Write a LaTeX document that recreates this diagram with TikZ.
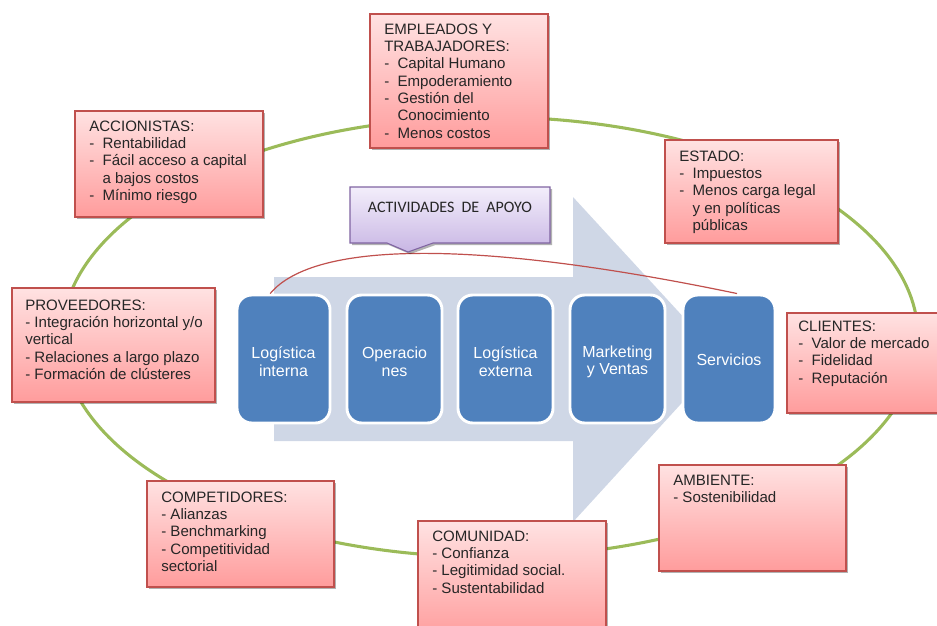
\documentclass[tikz,border=0pt]{standalone}
\usepackage{fontspec}
\setmainfont{Liberation Sans}
\newfontfamily\calloutfont{Carlito}
\usetikzlibrary{shadows,fit}

\definecolor{boxedge}{RGB}{192,80,77}
\definecolor{boxtop}{RGB}{255,226,226}
\definecolor{boxbot}{RGB}{255,156,156}
\definecolor{ringgreen}{RGB}{155,187,89}
\definecolor{chainblue}{RGB}{79,129,189}
\definecolor{arrowfill}{RGB}{207,215,230}
\definecolor{calloutedge}{RGB}{128,100,162}
\definecolor{callouttop}{RGB}{243,238,251}
\definecolor{calloutbot}{RGB}{200,182,228}
\definecolor{linkred}{RGB}{192,80,77}

% dash with hanging indent for the stakeholder lists
\newcommand{\itemdash}{\makebox[10pt][l]{-}}
\newcommand{\itemgap}{\hspace*{10pt}}
\newcommand{\stakelist}[1]{\begin{tabular}[t]{@{}l@{}}#1\end{tabular}}

\begin{document}
\begin{tikzpicture}[x=0.75pt,y=-0.75pt,
  stake/.style={draw=boxedge, line width=0.8pt, top color=boxtop, bottom color=boxbot,
    inner sep=0pt,
    drop shadow={shadow xshift=1.6pt, shadow yshift=-1.6pt, opacity=0.3, fill=black}},
  staketext/.style={anchor=base west, inner sep=0pt,
    font=\fontsize{11.3}{13}\selectfont, text=black!85},
  link/.style={draw=white, line width=2.2pt, fill=chainblue, rounded corners=11pt,
    inner sep=0pt},
  linktext/.style={inner sep=0pt, text=white, align=center,
    font=\fontsize{12}{13}\selectfont},
]
\useasboundingbox (0,0) rectangle (937,625);
\clip (0,0) rectangle (937,625);

% stakeholder ring
\draw[ringgreen, line width=2.3pt] (490,337) ellipse [x radius=321pt, y radius=165pt];

% value chain arrow
\fill[arrowfill] (274,277) -- (573,277) -- (573,197) -- (722,359) -- (573,522)
  -- (573,441) -- (274,441) -- cycle;

% primary activities
\node[link, fit={(237,295) (330,423)}] (l1) {};
\node[link, fit={(347,295) (442,423)}] (l2) {};
\node[link, fit={(458,295) (553,423)}] (l3) {};
\node[link, fit={(570,295) (665,423)}] (l4) {};
\node[link, fit={(683,295) (775,423)}] (l5) {};
\node[linktext] (l1T) at ([yshift=-2pt]l1.center) {Logística\\interna};
\node[linktext] (l2T) at ([yshift=-2pt]l2.center) {Operacio\\nes};
\node[linktext] (l3T) at ([yshift=-2pt]l3.center) {Logística\\externa};
\node[linktext] (l4T) at ([yshift=-2pt]l4.center) {Marketing\\y Ventas};
\node[linktext] (l5T) at ([yshift=-0.5pt]l5.center) {Servicios};

% support activities bracket
\draw[linkred, line width=0.9pt] ([xshift=-10pt]l1.north)
  .. controls (315,240) and (480,240) .. ([xshift=6pt]l5.north);

% support activities callout
\path[draw=calloutedge, line width=0.8pt, top color=callouttop, bottom color=calloutbot,
  drop shadow={shadow xshift=1.6pt, shadow yshift=-1.6pt, opacity=0.3, fill=black}]
  (350,187) -- (550,187) -- (550,243) -- (433,243) -- (408,252) -- (387,243)
  -- (350,243) -- cycle;
\node[anchor=base, inner sep=0pt, text=black!85,
  font=\calloutfont\fontsize{12}{14}\selectfont] (apoyo) at (450,212)
  {ACTIVIDADES\ \ DE\ \ APOYO};

% stakeholder boxes
\node[stake, fit={(370,14) (548,148)}] (emp) {};
\node[staketext] (empT) at (384,34) {\stakelist{EMPLEADOS Y\\TRABAJADORES:\\
  \itemdash Capital Humano\\\itemdash Empoderamiento\\\itemdash Gestión del\\
  \itemgap Conocimiento\\\itemdash Menos costos}};

\node[stake, fit={(75,111) (263,217)}] (acc) {};
\node[staketext] (accT) at (89,131) {\stakelist{ACCIONISTAS:\\
  \itemdash Rentabilidad\\\itemdash Fácil acceso a capital\\
  \itemgap a bajos costos\\\itemdash Mínimo riesgo}};

\node[stake, fit={(665,140) (838,243)}] (est) {};
\node[staketext] (estT) at (679,161) {\stakelist{ESTADO:\\
  \itemdash Impuestos\\\itemdash Menos carga legal\\
  \itemgap y en políticas\\\itemgap públicas}};

\node[stake, fit={(12,288) (215,402)}] (prov) {};
\node[staketext] (provT) at (25,310) {\stakelist{PROVEEDORES:\\
  - Integración horizontal y/o\\vertical\\- Relaciones a largo plazo\\
  - Formación de clústeres}};

\node[stake, fit={(787,313) (945,413)}] (cli) {};
\node[staketext] (cliT) at (798,331) {\stakelist{CLIENTES:\\
  \itemdash Valor de mercado\\\itemdash Fidelidad\\\itemdash Reputación}};

\node[stake, fit={(147,481) (334,587)}] (comp) {};
\node[staketext] (compT) at (161,502) {\stakelist{COMPETIDORES:\\
  - Alianzas\\- Benchmarking\\- Competitividad\\sectorial}};

\node[stake, fit={(418,521) (606,640)}] (comu) {};
\node[staketext] (comuT) at (432,541) {\stakelist{COMUNIDAD:\\
  - Confianza\\- Legitimidad social.\\- Sustentabilidad}};

\node[stake, fit={(659,465) (846,571)}] (amb) {};
\node[staketext] (ambT) at (673,485) {\stakelist{AMBIENTE:\\- Sostenibilidad}};
\end{tikzpicture}
\end{document}
